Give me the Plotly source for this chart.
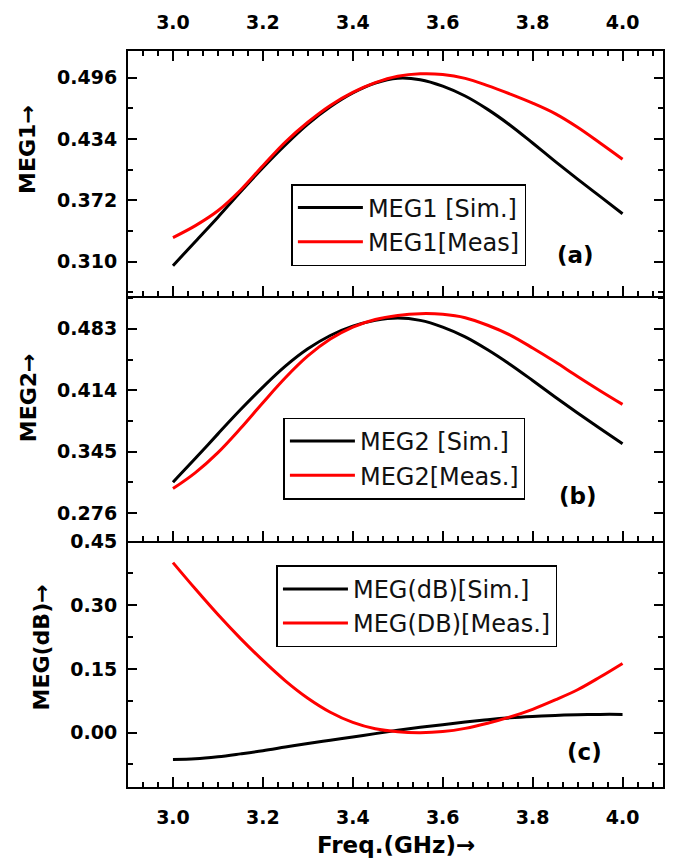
import plotly.graph_objects as go

# ---------------- data ----------------
freq = [3.00, 3.05, 3.10, 3.15, 3.20, 3.25, 3.30, 3.35, 3.40, 3.45, 3.50,
        3.55, 3.60, 3.65, 3.70, 3.75, 3.80, 3.85, 3.90, 3.95, 4.00]

meg1_sim = [0.306, 0.3305, 0.355, 0.3805, 0.405, 0.428, 0.449, 0.4665, 0.4805, 0.4905, 0.4955,
            0.4940, 0.4875, 0.4775, 0.4640, 0.4480, 0.4300, 0.4115, 0.3935, 0.3760, 0.3585]
meg1_meas = [0.3344, 0.3465, 0.3615, 0.3822, 0.4070, 0.4310, 0.4510, 0.4680, 0.4812, 0.4910, 0.4975,
             0.5000, 0.4993, 0.4953, 0.4880, 0.4795, 0.4703, 0.4597, 0.4459, 0.4300, 0.4136]

meg2_sim = [0.3107, 0.3375, 0.3650, 0.3920, 0.4175, 0.4410, 0.4605, 0.4755, 0.4860, 0.4925, 0.4952,
            0.4925, 0.4850, 0.4740, 0.4595, 0.4430, 0.4250, 0.4065, 0.3885, 0.3710, 0.3538]
meg2_meas = [0.3035, 0.3215, 0.3440, 0.3710, 0.4000, 0.4280, 0.4525, 0.4715, 0.4850, 0.4935, 0.4980,
             0.5000, 0.4993, 0.4955, 0.4870, 0.4760, 0.4615, 0.4460, 0.4295, 0.4135, 0.3981]

megdb_sim = [-0.063, -0.0615, -0.0567, -0.050, -0.0427, -0.034, -0.0256, -0.018, -0.0101, -0.0023, 0.0054,
             0.0125, 0.0187, 0.0248, 0.0303, 0.0348, 0.0380, 0.0405, 0.0422, 0.0430, 0.0430]
megdb_meas = [0.4003, 0.3380, 0.2780, 0.2220, 0.1700, 0.1220, 0.0810, 0.0480, 0.0240, 0.0090, 0.0020,
              0.0000, 0.0025, 0.0100, 0.0220, 0.0370, 0.0550, 0.0770, 0.1010, 0.1310, 0.1630]

names_a = ["MEG1 [Sim.]", "MEG1[Meas]"]
names_b = ["MEG2 [Sim.]", "MEG2[Meas.]"]
names_c = ["MEG(dB)[Sim.]", "MEG(DB)[Meas.]"]
panel_tags = ["(a)", "(b)", "(c)"]
y_titles = ["MEG1→", "MEG2→", "MEG(dB)→"]
x_title = "Freq.(GHz)→"

# ---------------- figure ----------------
W, H = 676, 863
ML, MR, MT, MB = 128, 11, 40, 76
plot_w = W - ML - MR
plot_h = H - MT - MB

def py(p):
    """pixel y -> paper y"""
    return (H - MB - p) / plot_h

def px(p):
    return (p - ML) / plot_w

FONT = "DejaVu Sans"
BLACK = "#000000"
RED = "#ff0000"

fig = go.Figure()
series = [
    ("x", "y", meg1_sim, meg1_meas, names_a, "legend"),
    ("x2", "y2", meg2_sim, meg2_meas, names_b, "legend2"),
    ("x3", "y3", megdb_sim, megdb_meas, names_c, "legend3"),
]
for xa, ya, sim, meas, nm, lg in series:
    fig.add_trace(go.Scatter(x=freq, y=sim, mode="lines", name=nm[0], xaxis=xa, yaxis=ya,
                             line=dict(color=BLACK, width=3, shape="spline"), legend=lg))
    fig.add_trace(go.Scatter(x=freq, y=meas, mode="lines", name=nm[1], xaxis=xa, yaxis=ya,
                             line=dict(color=RED, width=3, shape="spline"), legend=lg))

tickfont = dict(family=FONT, size=19, color=BLACK, weight="bold")
xr = [2.9, 4.09]
minor_x = dict(ticks="inside", ticklen=5, tickwidth=1.5, tickcolor=BLACK, dtick=0.2 / 6, tick0=3.0)

common_x = dict(range=xr, dtick=0.2, tick0=3.0, tickformat=".1f", ticks="inside", ticklen=10,
                tickwidth=1.5, tickcolor=BLACK, showline=True, linewidth=2, linecolor=BLACK,
                showgrid=False, zeroline=False, tickfont=tickfont, minor=minor_x)

d_a = [py(289), 1.0]
d_b = [py(537), py(289)]
d_c = [0.0, py(537)]

fig.update_layout(
    xaxis=dict(common_x, domain=[0, 1], anchor="y", side="top", mirror="ticks",
               showticklabels=True, ticklabelstandoff=12),
    xaxis2=dict(common_x, domain=[0, 1], anchor="y2", side="bottom", mirror=False,
                showticklabels=False),
    xaxis3=dict(common_x, domain=[0, 1], anchor="y3", side="bottom", mirror=False,
                showticklabels=True, ticklabelstandoff=12),
)

def yax(dom, rng, t0, dt, fmt, anchor):
    return dict(domain=dom, range=rng, anchor=anchor, tick0=t0, dtick=dt, tickformat=fmt,
                ticks="inside", ticklen=9, tickwidth=1.5, tickcolor=BLACK, mirror="ticks",
                showline=True, linewidth=2, linecolor=BLACK, showgrid=False, zeroline=False,
                tickfont=tickfont, ticklabelstandoff=5,
                minor=dict(ticks="inside", ticklen=5, tickwidth=1.5, tickcolor=BLACK,
                           dtick=dt / 2, tick0=t0))

fig.update_layout(
    yaxis=yax(d_a, [0.275, 0.523], 0.310, 0.062, ".3f", "x"),
    yaxis2=yax(d_b, [0.245, 0.5195], 0.276, 0.069, ".3f", "x2"),
    yaxis3=yax(d_c, [-0.128, 0.452], 0.0, 0.15, ".2f", "x3"),
)

legfont = dict(family=FONT, size=24, color="#111111")
def leg(xp, yp):
    return dict(x=xp, y=yp, xanchor="left", yanchor="top", bgcolor="white",
                bordercolor=BLACK, borderwidth=1.5, font=legfont, itemwidth=65,
                tracegroupgap=0, traceorder="normal")

fig.update_layout(
    legend=leg(px(292), py(175)),
    legend2=leg(px(284), py(412)),
    legend3=leg(px(277), py(562)),
)

ann = []
# panel tags
for tag, xa, ya, xv, yv in [(panel_tags[0], "x", "y", 3.896, 0.3165),
                            (panel_tags[1], "x2", "y2", 3.90, 0.2955),
                            (panel_tags[2], "x3", "y3", 3.916, -0.045)]:
    ann.append(dict(text=tag, x=xv, y=yv, xref=xa, yref=ya, showarrow=False,
                    font=dict(family=FONT, size=23, color=BLACK, weight="bold")))
# y titles
for t, xp_, yp_ in [(y_titles[0], 27, 140), (y_titles[1], 28, 392), (y_titles[2], 41, 645)]:
    ann.append(dict(text=t, x=px(xp_), y=py(yp_), xref="paper", yref="paper", showarrow=False,
                    textangle=-90, xanchor="center", yanchor="middle",
                    font=dict(family=FONT, size=22, color=BLACK, weight="bold")))
ann.append(dict(text=x_title, x=0.5, y=py(846), xref="paper", yref="paper", showarrow=False,
                xanchor="center", yanchor="middle",
                font=dict(family=FONT, size=23, color=BLACK, weight="bold")))

fig.update_layout(
    annotations=ann,
    width=W, height=H,
    margin=dict(l=ML, r=MR, t=MT, b=MB),
    paper_bgcolor="white", plot_bgcolor="white",
    showlegend=True,
)

fig.write_html("out.html")
